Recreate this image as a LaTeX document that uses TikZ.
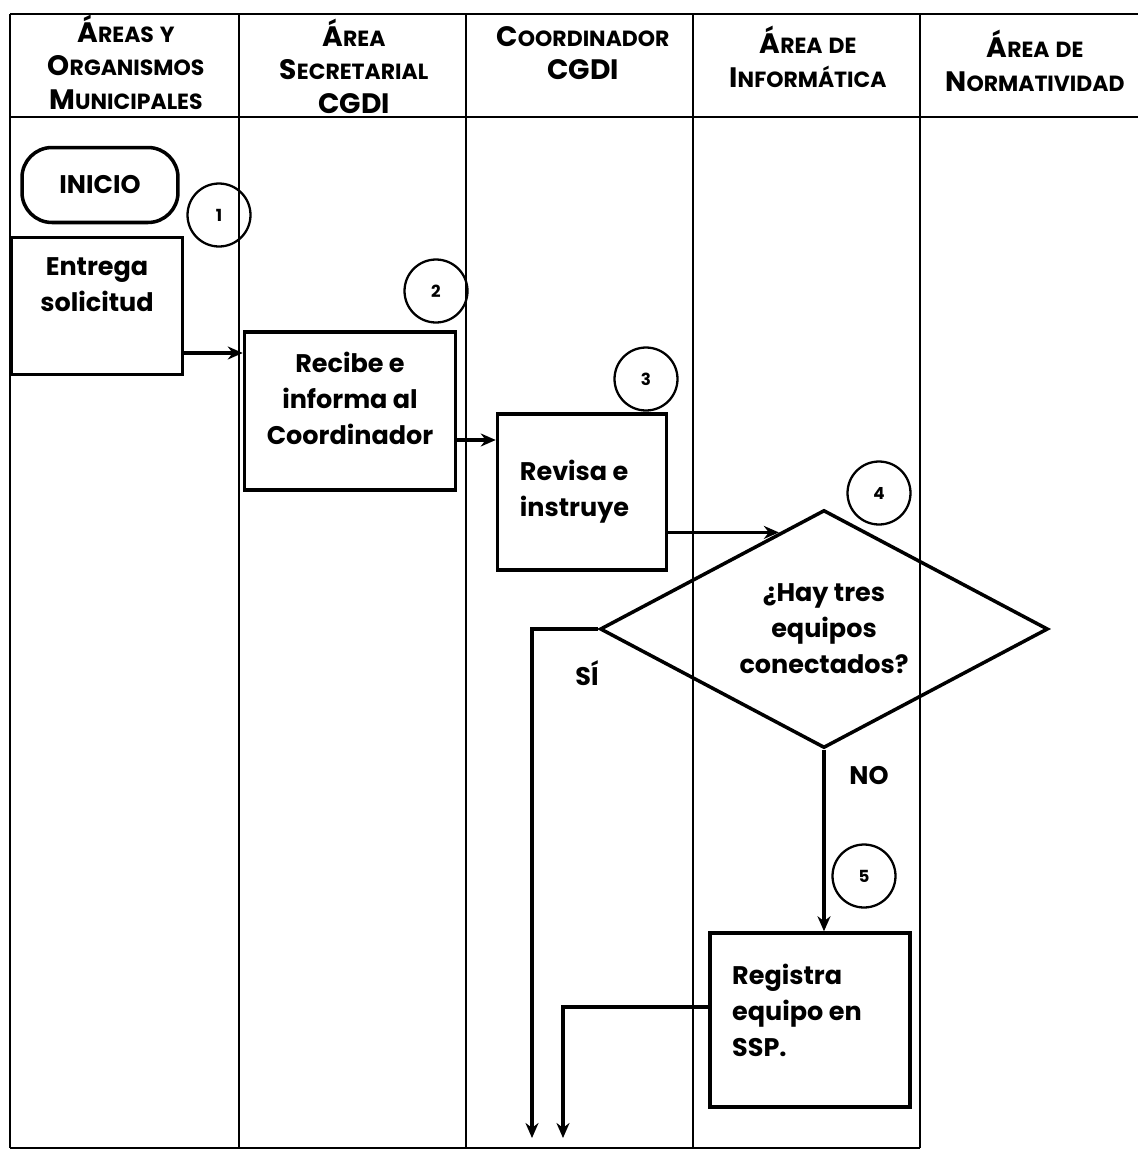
\documentclass[tikz,border=0pt]{standalone}
\usepackage{fontspec}
\setmainfont{Poppins}
\usepackage{tikz}
\usetikzlibrary{arrows.meta, positioning, shapes.geometric, calc}
\newcommand{\hd}[2]{{\fontsize{16}{19}\selectfont #1}{\fontsize{12.5}{19}\selectfont #2}}
\newcommand{\hs}[1]{{\fontsize{12.5}{19}\selectfont #1}}

\begin{document}
\begin{tikzpicture}[x=0.02cm, y=-0.02cm,
    lane/.style={line width=1.1pt},
    head/.style={align=center, font=\bfseries\fontsize{16}{19}\selectfont},
    proc/.style={rectangle, draw, line width=2pt, inner sep=0pt},
    txt/.style={font=\bfseries\fontsize{14.5}{20.5}\selectfont},
    num/.style={circle, draw, line width=1.3pt, minimum size=1.26cm, inner sep=0pt,
                font=\bfseries\fontsize{9.5}{10}\selectfont},
    flow/.style={-{Stealth[length=3mm, width=2.6mm]}, line width=1.9pt}
]
\useasboundingbox (0,0) rectangle (1138,1156);

% carriles
\draw[lane] (10,14) -- (1138,14);
\draw[lane] (10,117) -- (1138,117);
\draw[lane] (10,1148) -- (920,1148);
\foreach \x in {10,239,466,693,920}
    \draw[lane] (\x,14) -- (\x,1148);

\node[head] (hmun) at (126,62) {\hd{Á}{REAS} \hs{Y}\\\hd{O}{RGANISMOS}\\\hd{M}{UNICIPALES}};
\node[head] (hsec) at (354,66) {\hd{Á}{REA}\\\hd{S}{ECRETARIAL}\\CGDI};
\node[head] (hcoo) at (583,53) {\hd{C}{OORDINADOR}\\CGDI};
\node[head] (hinf) at (808,57) {\hd{Á}{REA} \hs{DE}\\\hd{I}{NFORMÁTICA}};
\node[head] (hnor) at (1035,61) {\hd{Á}{REA} \hs{DE}\\\hd{N}{ORMATIVIDAD}};

% pasos
\node[proc, rounded corners=0.6cm, minimum width=3.12cm, minimum height=1.5cm, txt] (inicio) at (100,185) {INICIO};
\node[num] (n1) at (219,215) {1};

\node[proc, minimum width=3.42cm, minimum height=2.74cm] (entrega) at (97,306) {};
\node[txt, align=center] (entregatxt) at (97,285) {Entrega\\solicitud};

\node[num] (n2) at (436,291) {2};
\node[proc, minimum width=4.22cm, minimum height=3.16cm] (recibe) at (350,411) {};
\node[txt, align=center] (recibetxt) at (350,398) {Recibe e\\informa al\\Coordinador};

\node[num] (n3) at (646,379) {3};
\node[proc, minimum width=3.38cm, minimum height=3.12cm, txt, align=left] (revisa) at (582,492)
    {\hspace*{-0.3cm}Revisa e\\\hspace*{-0.3cm}instruye};

\node[num] (n4) at (879,493) {4};
\node[diamond, draw, line width=2pt, aspect=1.9, inner sep=0pt,
      minimum width=8.96cm, minimum height=4.76cm, txt, align=center] (hay) at (824,629)
    {¿Hay tres\\equipos\\conectados?};

\node[num] (n5) at (864,876) {5};
\node[proc, minimum width=4.0cm, minimum height=3.48cm] (registra) at (810,1020) {};
\node[txt, align=left, anchor=west] (registratxt) at (726,1010) {Registra\\equipo en\\SSP.};

\node[txt] (si) at (587,673) {SÍ};
\node[txt] (no) at (869,776) {NO};

\coordinate (e4) at ($(hay.north)!0.2!(hay.west)$);
\coordinate (siend) at (532,1138);
\coordinate (rend) at (563,1138);

% flechas
\draw[flow] ([yshift=-0.94cm]entrega.east) -- ([yshift=-0.94cm]entrega.east -| recibe.west);
\draw[flow] ([yshift=-0.58cm]recibe.east) -- ([yshift=-0.58cm]recibe.east -| revisa.west);
\draw[flow] (revisa.east |- e4) -- (e4);
\draw[flow] (hay.west) -| (siend);
\draw[flow] (hay.south) -- (hay.south |- registra.north);
\draw[flow] ([yshift=0.26cm]registra.west) -| (rend);
\end{tikzpicture}
\end{document}
